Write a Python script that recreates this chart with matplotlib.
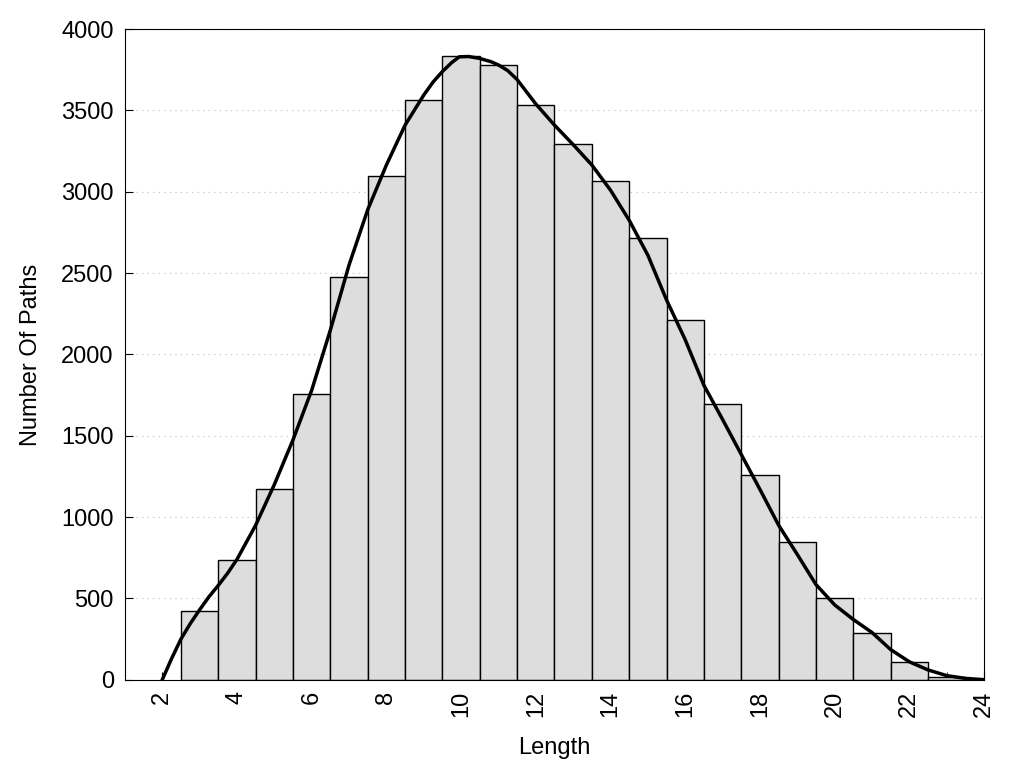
import matplotlib
matplotlib.use('Agg')
import matplotlib.pyplot as plt

plt.rcParams['font.family'] = ['Liberation Sans', 'DejaVu Sans']

# histogram of path lengths
length = [3, 4, 5, 6, 7, 8, 9, 10, 11, 12, 13, 14, 15, 16, 17, 18, 19, 20, 21, 22, 23]
paths = [424, 737, 1174, 1757, 2476, 3097, 3564, 3834, 3779, 3533, 3294, 3066,
         2716, 2212, 1696, 1260, 848, 504, 289, 111, 18]

# smoothed curve
curve_x = [2.0, 2.25, 2.5, 2.75, 3.0, 3.25, 3.5, 3.75, 4.0, 4.5, 5.0, 5.5, 6.0,
           6.5, 7.0, 7.5, 8.0, 8.5, 9.0, 9.25, 9.5, 9.75, 9.95, 10.2, 10.5,
           10.8, 11.0, 11.25, 11.5, 11.75, 12.0, 12.5, 13.0, 13.5, 14.0, 14.5,
           15.0, 15.5, 16.0, 16.5, 17.0, 17.5, 18.0, 18.5, 19.0, 19.5, 20.0,
           20.5, 21.0, 21.5, 22.0, 22.5, 23.0, 23.5, 24.0]
curve_y = [0, 130, 250, 345, 430, 510, 580, 655, 740, 950, 1200, 1475, 1780,
           2150, 2550, 2890, 3165, 3410, 3595, 3675, 3740, 3795, 3830, 3832,
           3820, 3800, 3780, 3745, 3690, 3615, 3540, 3410, 3290, 3165, 3010,
           2825, 2610, 2335, 2090, 1810, 1600, 1385, 1170, 950, 770, 585, 460,
           370, 290, 185, 110, 60, 25, 8, 0]

fig = plt.figure(figsize=(10.24, 7.68), dpi=100)
ax = fig.add_axes([0.122, 0.115, 0.839, 0.847])

ax.bar(length, paths, width=1.0, color='#dddddd', edgecolor='black',
       linewidth=1.0, zorder=2)
ax.plot(curve_x, curve_y, color='black', linewidth=2.5, zorder=3,
        solid_joinstyle='round')

ax.set_xlim(1, 24)
ax.set_ylim(0, 4000)
ax.set_xticks(range(2, 25, 2))
ax.set_xticks(range(1, 25), minor=True)
ax.set_yticks(range(0, 4001, 500))
ax.tick_params(axis='x', which='both', direction='in', length=6, labelsize=17,
               labelrotation=90, pad=8)
ax.tick_params(axis='y', direction='in', length=6, labelsize=17, pad=8)
ax.yaxis.grid(True, linestyle=(0, (1, 4)), color='#bbbbbb', linewidth=0.8, zorder=0)
ax.set_axisbelow(True)

ax.set_xlabel('Length', fontsize=17, labelpad=14)
ax.set_ylabel('Number Of Paths', fontsize=17, labelpad=14)

fig.savefig('out.png', dpi=100)
